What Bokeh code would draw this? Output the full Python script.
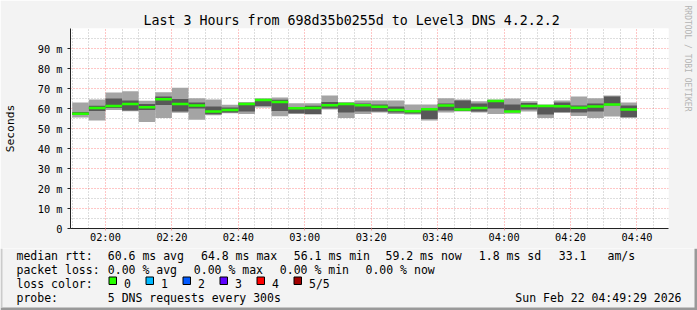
import pandas as pd
from bokeh.plotting import figure
from bokeh.layouts import column
from bokeh.models import (ColumnDataSource, Range1d, FixedTicker, DatetimeTickFormatter, Title)
from bokeh.core.properties import value
from bokeh.embed import file_html
from bokeh.resources import INLINE

# ---------------- data ----------------
DAY = "2026-02-22"
RANGE_START = "01:49:29"
RANGE_END = "04:49:29"
STEP_MIN = 5

bin_end = ["01:55", "02:00", "02:05", "02:10", "02:15", "02:20", "02:25", "02:30", "02:35", "02:40",
           "02:45", "02:50", "02:55", "03:00", "03:05", "03:10", "03:15", "03:20", "03:25", "03:30",
           "03:35", "03:40", "03:45", "03:50", "03:55", "04:00", "04:05", "04:10", "04:15", "04:20",
           "04:25", "04:30", "04:35", "04:40"]

# five sorted pings per bin (ms)
ping_min = [55.5, 54.0, 59.2, 58.6, 53.3, 55.2, 57.9, 54.4, 56.6, 57.6,
            57.3, 60.5, 56.1, 57.2, 57.0, 59.5, 55.3, 57.2, 58.0, 57.2,
            57.0, 54.0, 58.0, 58.5, 58.0, 57.2, 57.4, 58.5, 55.3, 57.8,
            56.3, 55.2, 56.0, 55.2]
ping_q1 = [56.8, 58.7, 60.3, 59.0, 59.3, 61.8, 58.5, 60.0, 57.1, 58.0,
           58.5, 61.3, 58.7, 57.6, 57.3, 60.0, 58.0, 58.5, 58.5, 58.0,
           57.5, 54.8, 59.0, 58.8, 58.5, 60.0, 58.4, 59.5, 57.0, 58.3,
           58.0, 58.5, 61.5, 55.8]
ping_median = [57.4, 60.2, 61.3, 62.2, 60.6, 64.6, 62.3, 61.5, 58.5, 59.3,
               62.3, 64.3, 63.2, 60.1, 60.2, 61.6, 62.2, 61.6, 60.9, 59.3,
               58.6, 59.6, 61.5, 59.5, 60.3, 63.8, 58.5, 61.2, 61.2, 61.1,
               60.4, 61.0, 62.0, 59.5]
ping_q3 = [58.2, 61.4, 65.0, 64.0, 62.3, 66.0, 64.8, 63.0, 61.0, 60.5,
           62.6, 64.8, 64.4, 60.8, 61.4, 63.2, 62.6, 62.5, 62.0, 61.0,
           59.2, 60.0, 62.5, 64.0, 62.5, 64.2, 62.0, 62.8, 61.5, 63.0,
           61.5, 62.5, 66.0, 61.5]
ping_max = [63.0, 64.5, 68.0, 68.6, 63.9, 68.1, 70.4, 65.1, 64.5, 61.9,
            63.2, 65.1, 65.5, 62.6, 62.6, 66.5, 63.2, 64.0, 64.0, 64.0,
            62.0, 62.0, 65.1, 64.5, 63.6, 64.5, 65.0, 63.6, 62.0, 64.0,
            66.0, 65.1, 66.5, 63.0]

x_tick_labels = ["02:00", "02:20", "02:40", "03:00", "03:20", "03:40", "04:00", "04:20", "04:40"]
y_tick_values = [0, 10, 20, 30, 40, 50, 60, 70, 80, 90]
y_tick_labels = ["0", "10 m", "20 m", "30 m", "40 m", "50 m", "60 m", "70 m", "80 m", "90 m"]
y_minor_values = [5, 15, 25, 35, 45, 55, 65, 75, 85, 95]

title_text = "Last 3 Hours from 698d35b0255d to Level3 DNS 4.2.2.2"
y_label_text = "Seconds"
watermark_text = "RRDTOOL / TOBI OETIKER"

rtt_texts = ["median rtt:", "60.6 ms avg", "64.8 ms max", "56.1 ms min", "59.2 ms now",
             "1.8 ms sd", "33.1", "am/s"]
loss_texts = ["packet loss:", "0.00 % avg", "0.00 % max", "0.00 % min", "0.00 % now"]
loss_head = "loss color:"
loss_labels = ["0", "1", "2", "3", "4", "5/5"]
loss_colors = ["#26ff00", "#00b8ff", "#0059ff", "#5e00ff", "#ff0000", "#a10000"]
probe_texts = ["probe:", "5 DNS requests every 300s"]
date_text = "Sun Feb 22 04:49:29 2026"

# ---------------- layout (page pixels) ----------------
PAGE_W, PAGE_H = 697, 310
PFL, PFT, PFR, PFB = 67, 28, 668, 228     # plot frame edges
MAIN_H = 248                              # main figure height (frame + axis labels)
MONO = "DejaVu Sans Mono"
LIGHT_SMOKE = "#a4a4a4"
DARK_SMOKE = "#585858"
BG = "#f3f3f3"
NB = "\u00a0"

t0 = pd.Timestamp(f"{DAY} {RANGE_START}")
t1 = pd.Timestamp(f"{DAY} {RANGE_END}")
ends = pd.to_datetime([f"{DAY} {t}" for t in bin_end])
starts = ends - pd.Timedelta(minutes=STEP_MIN)

src = ColumnDataSource(dict(left=list(starts), right=list(ends), pmin=ping_min, q1=ping_q1,
                            med=ping_median, q3=ping_q3, pmax=ping_max))

p = figure(width=PAGE_W, height=MAIN_H, x_axis_type="datetime", output_backend="svg",
           toolbar_location=None, title=None,
           x_range=Range1d(t0, t1), y_range=Range1d(0, 100),
           min_border_left=PFL, min_border_right=PAGE_W - PFR,
           min_border_top=PFT, min_border_bottom=MAIN_H - PFB)
p.frame_align = False
p.background_fill_color = "#ffffff"
p.border_fill_color = BG
p.outline_line_color = None

# smoke
p.quad(left="left", right="right", bottom="pmin", top="pmax", source=src,
       fill_color=LIGHT_SMOKE, line_color=None)
p.quad(left="left", right="right", bottom="q1", top="q3", source=src,
       fill_color=DARK_SMOKE, line_color=None)
p.segment(x0="left", x1="right", y0="med", y1="med", source=src,
          line_color=loss_colors[0], line_width=2.5, line_cap="butt")

# ticks
def ms(ts):
    return ts.value / 1e6

x_major = [ms(pd.Timestamp(f"{DAY} {s}")) for s in x_tick_labels]
x_minor = [ms(t) for t in pd.date_range(t0.ceil("5min"), t1, freq="5min")]
x_minor = [m for m in x_minor if m not in x_major]
p.xaxis.ticker = FixedTicker(ticks=x_major, minor_ticks=x_minor)
p.xaxis.formatter = DatetimeTickFormatter(minsec="%H:%M", minutes="%H:%M", hourmin="%H:%M",
                                          hours="%H:%M")
p.yaxis.ticker = FixedTicker(ticks=y_tick_values, minor_ticks=y_minor_values)
p.yaxis.major_label_overrides = dict(zip(y_tick_values, y_tick_labels))

for ax in (p.xaxis, p.yaxis):
    ax.axis_line_color = "#222222"
    ax.axis_line_width = 1
    ax.major_label_text_font = MONO
    ax.major_label_text_font_size = "10.3px"
    ax.major_label_text_color = "#000000"
    ax.major_tick_in = 0
    ax.minor_tick_line_color = None
p.yaxis.major_tick_out = 3
p.yaxis.major_tick_line_color = "#222222"
p.yaxis.major_label_standoff = 4
p.xaxis.major_tick_out = 2
p.xaxis.major_tick_line_color = "#f0a0a0"
p.xaxis.major_label_standoff = -2

p.yaxis.axis_label = y_label_text
p.yaxis.axis_label_text_font = MONO
p.yaxis.axis_label_text_font_size = "11.3px"
p.yaxis.axis_label_text_font_style = "normal"
p.yaxis.axis_label_text_color = "#000000"
p.yaxis.axis_label_standoff = 18

for g in (p.xgrid, p.ygrid):
    g.grid_line_color = "#ff0000"
    g.grid_line_alpha = 0.45
    g.grid_line_dash = "1 2"
    g.minor_grid_line_color = "#909090"
    g.minor_grid_line_alpha = 0.6
    g.minor_grid_line_dash = "1 2"

# title (above)
p.add_layout(Title(text=title_text, align="left", offset=140 - PFL, standoff=1,
                   text_font=MONO, text_font_size="13.3px", text_font_style="normal",
                   text_color="#000000"), "above")
# watermark (right): an invisible spacer pushes it towards the page edge
p.add_layout(Title(text=NB, align="left", offset=0, standoff=11,
                   text_font=MONO, text_font_size="1px", text_color=BG), "right")
p.add_layout(Title(text=watermark_text, align="left", offset=5 - PFT, standoff=0,
                   text_font=MONO, text_font_size="8px", text_font_style="normal",
                   text_color="#b4b4b4"), "right")

# ---------------- legend strip (own figure, y in page pixels) ----------------
leg = figure(width=PAGE_W, height=PAGE_H - MAIN_H, output_backend="svg", toolbar_location=None,
             title=None, x_range=Range1d(0, PAGE_W), y_range=Range1d(PAGE_H, MAIN_H),
             x_axis_location=None, y_axis_location=None,
             min_border=0, min_border_left=0, min_border_right=0, min_border_top=0,
             min_border_bottom=0)
leg.frame_align = False
leg.background_fill_color = BG
leg.border_fill_color = BG
leg.outline_line_color = None
leg.grid.visible = False

LS = "11.5px"
TX = dict(text_font=value(MONO), text_font_size=value(LS), text_color="#000000",
          text_baseline="alphabetic", text_align="left")

row_rtt_x = [16, 107.3, 200.5, 293.3, 385, 478.3, 558.3, 607]
row_loss_x = [16, 107.3, 193.3, 279.3, 365]
ROW_Y = [255, 269, 283, 297]

leg.text(x=row_rtt_x, y=[ROW_Y[0]] * len(rtt_texts), text=rtt_texts, **TX)
leg.text(x=row_loss_x, y=[ROW_Y[1]] * len(loss_texts), text=loss_texts, **TX)
leg.text(x=[16], y=[ROW_Y[2]], text=[loss_head], **TX)

box_x = [108.5 + 37 * i for i in range(len(loss_labels))]
leg.quad(left=box_x, right=[b + 7.5 for b in box_x], top=[276.5] * len(box_x),
         bottom=[284] * len(box_x), fill_color=loss_colors, line_color="#000000", line_width=1)
leg.text(x=[b + 15 for b in box_x], y=[ROW_Y[2]] * len(box_x), text=loss_labels, **TX)

leg.text(x=[16, 107.3], y=[ROW_Y[3]] * 2, text=probe_texts, **TX)
TXR = dict(TX, text_align="right")
leg.text(x=[681], y=[ROW_Y[3]], text=[date_text], **TXR)

# page border shading (bottom / sides of the strip)
leg.quad(left=[0], right=[PAGE_W], top=[PAGE_H - 3], bottom=[PAGE_H], fill_color="#999999",
         line_color=None)
leg.quad(left=[PAGE_W - 3], right=[PAGE_W], top=[MAIN_H], bottom=[PAGE_H], fill_color="#999999",
         line_color=None)
leg.quad(left=[0], right=[2], top=[MAIN_H], bottom=[PAGE_H - 3], fill_color="#cbcbcb",
         line_color=None)

layout = column(p, leg, spacing=0)
open("out.html", "w").write(file_html(layout, INLINE))
